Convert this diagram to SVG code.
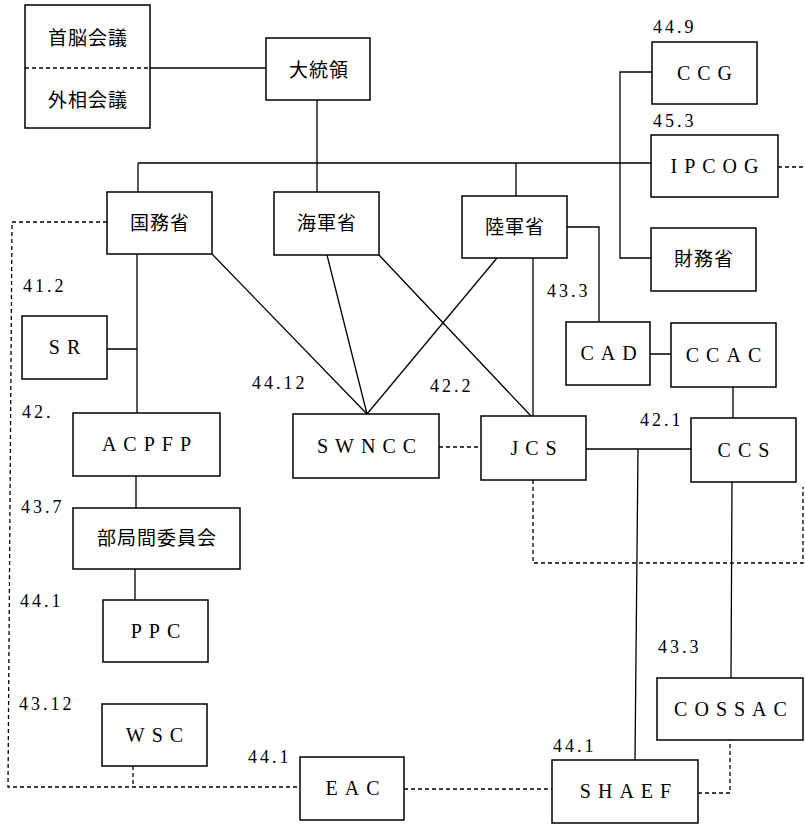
<svg xmlns="http://www.w3.org/2000/svg" width="805" height="825" viewBox="0 0 805 825">
<style>
.box{fill:#fff;stroke:#000;stroke-width:1.5}
.ln{fill:none;stroke:#000;stroke-width:1.3}
.dl{fill:none;stroke:#000;stroke-width:1.3;stroke-dasharray:4 3}
.jp{font-family:"Noto Sans CJK JP","Noto Sans CJK SC",sans-serif;font-size:19px;letter-spacing:1px;text-anchor:middle;fill:#000}
.en{font-family:"Liberation Serif",serif;font-size:20px;letter-spacing:7px;text-anchor:middle;fill:#000}
.num{font-family:"Liberation Serif",serif;font-size:18px;letter-spacing:3px;fill:#000}
</style>
<rect width="805" height="825" fill="#fff"/>
<g id="connectors">
<path class="ln" d="M150 68H266"/>
<path class="ln" d="M317 100V163M138 163H651M138 163V192M317 163V192M516 163V196"/>
<path class="ln" d="M652 72H620V258H651"/>
<path class="ln" d="M567 227H599V322"/>
<path class="ln" d="M533 258V416"/>
<path class="ln" d="M497 258L367 414M212 254L367 414M327 255L367 414M379 255L531 416"/>
<path class="ln" d="M137 254V413M107 349H137"/>
<path class="ln" d="M136 476V508M135 569V600"/>
<path class="ln" d="M650 354H671M733 387V418"/>
<path class="ln" d="M586 449H691M638 449L635 760M732 482L731 678"/>
<path class="dl" d="M778 167H805"/>
<path class="dl" d="M107 222H12L8 787H300M133 766V787"/>
<path class="dl" d="M439 447H481"/>
<path class="dl" d="M533 480V563H803V487"/>
<path class="dl" d="M404 789H552"/>
<path class="dl" d="M698 793H730V740"/>
</g>
<g id="n-summit"><rect class="box" x="25" y="5" width="125" height="123"/><path class="dl" d="M25 68H150"/><text class="jp" x="88" y="45">首脳会議</text><text class="jp" x="88" y="107">外相会議</text></g>
<g id="n-president"><rect class="box" x="266" y="38" width="104" height="62"/><text class="jp" x="319" y="77">大統領</text></g>
<g id="n-state"><rect class="box" x="107" y="192" width="105" height="62"/><text class="jp" x="160" y="230">国務省</text></g>
<g id="n-navy"><rect class="box" x="274" y="192" width="105" height="63"/><text class="jp" x="327" y="230">海軍省</text></g>
<g id="n-army"><rect class="box" x="462" y="196" width="105" height="62"/><text class="jp" x="515" y="234">陸軍省</text></g>
<g id="n-ccg"><rect class="box" x="652" y="42" width="105" height="62"/><text class="en" x="708" y="80">CCG</text></g>
<g id="n-ipcog"><rect class="box" x="651" y="135" width="127" height="62"/><text class="en" x="718" y="173">IPCOG</text></g>
<g id="n-treasury"><rect class="box" x="651" y="228" width="105" height="63"/><text class="jp" x="704" y="266">財務省</text></g>
<g id="n-sr"><rect class="box" x="22" y="316" width="85" height="63"/><text class="en" x="68" y="354">SR</text></g>
<g id="n-cad"><rect class="box" x="566" y="322" width="84" height="63"/><text class="en" x="612" y="360">CAD</text></g>
<g id="n-ccac"><rect class="box" x="671" y="323" width="105" height="64"/><text class="en" x="727" y="362">CCAC</text></g>
<g id="n-acpfp"><rect class="box" x="73" y="413" width="147" height="63"/><text class="en" x="150" y="451">ACPFP</text></g>
<g id="n-swncc"><rect class="box" x="293" y="414" width="146" height="64"/><text class="en" x="370" y="453">SWNCC</text></g>
<g id="n-jcs"><rect class="box" x="481" y="416" width="105" height="64"/><text class="en" x="537" y="455">JCS</text></g>
<g id="n-ccs"><rect class="box" x="691" y="418" width="105" height="64"/><text class="en" x="747" y="457">CCS</text></g>
<g id="n-interdept"><rect class="box" x="73" y="508" width="167" height="61"/><text class="jp" x="157" y="545">部局間委員会</text></g>
<g id="n-ppc"><rect class="box" x="103" y="600" width="105" height="62"/><text class="en" x="159" y="638">PPC</text></g>
<g id="n-wsc"><rect class="box" x="102" y="704" width="105" height="62"/><text class="en" x="158" y="742">WSC</text></g>
<g id="n-eac"><rect class="box" x="300" y="757" width="104" height="63"/><text class="en" x="356" y="795">EAC</text></g>
<g id="n-cossac"><rect class="box" x="657" y="678" width="146" height="62"/><text class="en" x="734" y="716">COSSAC</text></g>
<g id="n-shaef"><rect class="box" x="552" y="760" width="146" height="63"/><text class="en" x="629" y="798">SHAEF</text></g>
<g id="labels">
<text class="num" x="653" y="33">44.9</text>
<text class="num" x="653" y="127">45.3</text>
<text class="num" x="23" y="292">41.2</text>
<text class="num" x="547" y="297">43.3</text>
<text class="num" x="252" y="389">44.12</text>
<text class="num" x="430" y="392">42.2</text>
<text class="num" x="22" y="418">42.</text>
<text class="num" x="640" y="426">42.1</text>
<text class="num" x="21" y="513">43.7</text>
<text class="num" x="20" y="607">44.1</text>
<text class="num" x="658" y="653">43.3</text>
<text class="num" x="19" y="710">43.12</text>
<text class="num" x="248" y="763">44.1</text>
<text class="num" x="553" y="752">44.1</text>
</g>
</svg>
